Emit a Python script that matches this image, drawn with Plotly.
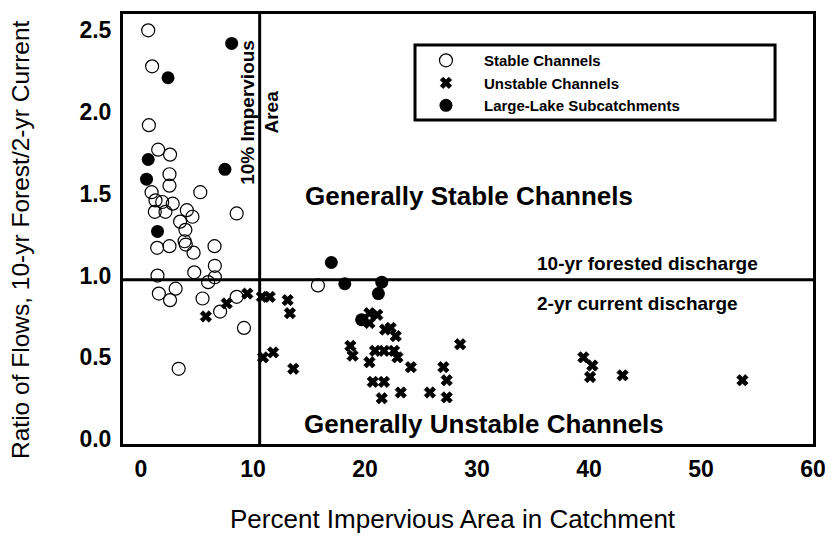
import plotly.graph_objects as go

# ---------------- data ----------------
stable_x = [0.65, 1.0, 0.71, 1.54, 2.6, 2.55, 2.55, 5.3, 0.95, 1.3, 1.9, 2.84, 1.24, 2.19,
            4.1, 4.6, 8.55, 3.5, 3.97, 1.45, 2.55, 3.9, 4.0, 4.7, 6.57, 6.6, 6.6, 1.48,
            4.76, 6.0, 1.6, 3.1, 2.6, 5.5, 7.07, 8.55, 9.2, 3.37, 15.8]
stable_y = [2.50, 2.28, 1.92, 1.77, 1.74, 1.62, 1.55, 1.51, 1.51, 1.46, 1.45, 1.44, 1.39, 1.39,
            1.40, 1.36, 1.38, 1.33, 1.28, 1.17, 1.18, 1.21, 1.19, 1.14, 1.18, 1.06, 0.99, 1.00,
            1.02, 0.96, 0.89, 0.92, 0.85, 0.86, 0.78, 0.87, 0.68, 0.43, 0.94]

unstable_x = [5.8, 7.66, 9.5, 10.8, 11.5, 10.9, 11.8, 13.1, 13.3, 13.6, 20.4, 21.1, 20.4,
              21.8, 22.3, 22.75, 18.7, 18.9, 20.4, 20.9, 21.7, 22.6, 22.9, 24.1, 20.7, 21.7,
              21.5, 23.2, 25.8, 28.5, 27.0, 27.3, 27.3, 39.5, 40.3, 40.1, 43.0, 53.7]
unstable_y = [0.75, 0.83, 0.89, 0.87, 0.87, 0.50, 0.53, 0.85, 0.77, 0.43, 0.77, 0.76, 0.71,
              0.67, 0.68, 0.63, 0.57, 0.51, 0.47, 0.54, 0.54, 0.54, 0.50, 0.44, 0.35, 0.35,
              0.25, 0.285, 0.285, 0.58, 0.44, 0.36, 0.255, 0.50, 0.45, 0.38, 0.39, 0.36]

lake_x = [8.1, 2.42, 0.65, 7.5, 0.5, 1.48, 17.0, 18.2, 21.5, 21.2, 19.7]
lake_y = [2.42, 2.21, 1.71, 1.65, 1.59, 1.27, 1.08, 0.95, 0.96, 0.89, 0.73]

x_ticks = [0, 10, 20, 30, 40, 50, 60]
y_ticks = [0.0, 0.5, 1.0, 1.5, 2.0, 2.5]
y_tick_text = ["0.0", "0.5", "1.0", "1.5", "2.0", "2.5"]

impervious_threshold = 10.6
ratio_threshold = 0.975

ARIAL = "Liberation Sans, Arial, sans-serif"

fig = go.Figure()
fig.add_trace(go.Scatter(
    x=stable_x, y=stable_y, mode="markers", name="Stable Channels",
    marker=dict(symbol="circle-open", size=13, color="black", line=dict(width=1.2, color="black"))))
fig.add_trace(go.Scatter(
    x=unstable_x, y=unstable_y, mode="markers", name="Unstable Channels",
    marker=dict(symbol="x", size=10, color="black", line=dict(width=0.8, color="black"))))
fig.add_trace(go.Scatter(
    x=lake_x, y=lake_y, mode="markers", name="Large-Lake Subcatchments",
    marker=dict(symbol="circle", size=13, color="black", line=dict(width=0))))

# threshold lines
fig.add_shape(type="line", xref="x", yref="paper", x0=impervious_threshold, x1=impervious_threshold,
              y0=0, y1=1, line=dict(color="black", width=3))
fig.add_shape(type="line", xref="paper", yref="y", x0=0, x1=1, y0=ratio_threshold, y1=ratio_threshold,
              line=dict(color="black", width=3))
# legend frame
fig.add_shape(type="rect", xref="paper", yref="paper", x0=0.4232, x1=0.945, y0=0.7535, y1=0.928,
              line=dict(color="black", width=3), fillcolor="rgba(0,0,0,0)")

bold = dict(family=ARIAL, color="black", weight="bold")
fig.add_annotation(x=impervious_threshold, y=2.0, xref="x", yref="y", text="10% Impervious<br>Area",
                   textangle=-90, showarrow=False, xanchor="center", yanchor="middle",
                   font=dict(size=19, **bold))
fig.add_annotation(x=29.3, y=1.486, xref="x", yref="y", text="Generally Stable Channels",
                   showarrow=False, font=dict(size=26, **bold))
fig.add_annotation(x=30.6, y=0.092, xref="x", yref="y", text="Generally Unstable Channels",
                   showarrow=False, font=dict(size=26, **bold))
fig.add_annotation(x=35.2, y=1.076, xref="x", yref="y", text="10-yr forested discharge",
                   showarrow=False, xanchor="left", font=dict(size=19, **bold))
fig.add_annotation(x=35.2, y=0.832, xref="x", yref="y", text="2-yr current discharge",
                   showarrow=False, xanchor="left", font=dict(size=19, **bold))

# axis titles
fig.add_annotation(x=(453 - 123) / 690, y=(444 - 519) / 430, xref="paper", yref="paper",
                   xanchor="center", yanchor="middle",
                   text="Percent Impervious Area in Catchment", showarrow=False,
                   font=dict(family=ARIAL, size=26, color="black"))
fig.add_annotation(x=(20 - 123) / 690, y=(444 - 240) / 430, xref="paper", yref="paper",
                   xanchor="center", yanchor="middle",
                   text="Ratio of Flows, 10-yr Forest/2-yr Current", textangle=-90, showarrow=False,
                   font=dict(family=ARIAL, size=24.5, color="black"))

fig.update_xaxes(range=[-1.6, 60], tickvals=x_ticks, showgrid=False, zeroline=False,
                 showline=True, linewidth=3, linecolor="black", mirror=True, ticks="",
                 automargin=False, ticklabelstandoff=2, tickfont=dict(size=23, **bold))
fig.update_yaxes(range=[-0.03, 2.6], tickvals=y_ticks, ticktext=y_tick_text, showgrid=False,
                 zeroline=False, showline=True, linewidth=3, linecolor="black", mirror=True,
                 automargin=False, ticks="", ticklabelstandoff=4, tickfont=dict(size=23, **bold))

# the page body adds an 8 px offset, so the figure is drawn 8 px smaller with shifted margins
fig.update_layout(
    width=825, height=532,
    margin=dict(l=115, r=20, t=6, b=96),
    paper_bgcolor="white", plot_bgcolor="white",
    showlegend=True,
    legend=dict(x=0.413, y=0.93, xanchor="left", yanchor="top", bgcolor="rgba(0,0,0,0)",
                borderwidth=0, itemwidth=66, tracegroupgap=0,
                font=dict(size=15, **bold)),
)

fig.write_html("out.html")
